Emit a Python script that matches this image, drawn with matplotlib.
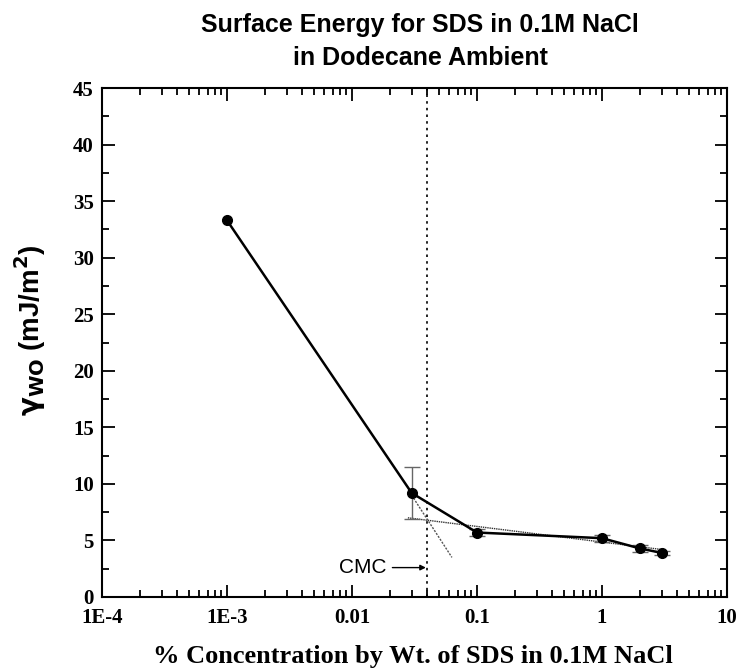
import matplotlib
matplotlib.use("Agg")
import matplotlib.pyplot as plt
import numpy as np
from matplotlib.ticker import FixedLocator, FixedFormatter, LogLocator, MultipleLocator, NullFormatter

# Data
conc = [0.001, 0.03, 0.1, 1.0, 2.0, 3.0]
gamma = [33.3, 9.2, 5.7, 5.2, 4.3, 3.9]
err_conc = [0.03, 0.1, 1.0, 2.0, 3.0]
err_gamma = [9.2, 5.7, 5.2, 4.3, 3.9]
err_size = [2.3, 0.35, 0.3, 0.3, 0.2]

fit_flat_x = [0.028, 3.0]
fit_flat_y = [7.0, 4.2]
fit_steep_x = [0.03, 0.063]
fit_steep_y = [9.0, 3.5]

cmc = 0.04
xticks = [1e-4, 1e-3, 0.01, 0.1, 1, 10]
xticklabels = ["1E-4", "1E-3", "0.01", "0.1", "1", "10"]

W, H = 744, 669
fig = plt.figure(figsize=(7.44, 6.69), dpi=100)
ax = fig.add_axes([102 / W, 1 - 597 / H, (727 - 102) / W, (597 - 88) / H])

ax.set_xscale("log")
ax.set_xlim(1e-4, 10)
ax.set_ylim(0, 45)

# fit lines
ax.plot(fit_flat_x, fit_flat_y, color="#333333", lw=1.0, ls=(0, (1, 0.6)))
ax.plot(fit_steep_x, fit_steep_y, color="#555555", lw=1.0, ls=(0, (1.5, 1)))

# error bars
ax.errorbar(err_conc, err_gamma, yerr=err_size, fmt="none", ecolor="#666666", elinewidth=1.0, capsize=6)
# main line
ax.plot(conc, gamma, color="black", lw=1.8, marker="o", ms=7, mfc="black", mec="black")

# CMC line
ax.axvline(cmc, color="black", lw=1.2, ls=(0, (1.5, 2.5)))
ax.annotate("CMC", xy=(cmc, 2.6), xytext=(0.019, 2.6), fontsize=15, family="Liberation Sans",
            ha="right", va="center",
            arrowprops=dict(arrowstyle="-|>", color="black", lw=1.0, mutation_scale=8,
                            shrinkA=2, shrinkB=1))

# ticks
ax.xaxis.set_major_locator(FixedLocator(xticks))
ax.xaxis.set_major_formatter(FixedFormatter(xticklabels))
ax.xaxis.set_minor_locator(LogLocator(base=10, subs=np.arange(2, 10)))
ax.xaxis.set_minor_formatter(NullFormatter())
ax.yaxis.set_major_locator(MultipleLocator(5))
ax.yaxis.set_minor_locator(MultipleLocator(2.5))

ax.tick_params(which="both", direction="in", top=True, right=True, width=1.3)
ax.tick_params(which="major", length=9)
ax.tick_params(which="minor", length=5)
ax.tick_params(axis="y", which="major", labelsize=15, pad=6)
ax.tick_params(axis="x", which="major", labelsize=15, pad=8)
for lab in ax.get_xticklabels() + ax.get_yticklabels():
    lab.set_family("Liberation Serif")
    lab.set_fontweight("bold")

for s in ax.spines.values():
    s.set_linewidth(1.5)

ax.set_xlabel("% Concentration by Wt. of SDS in 0.1M NaCl", family="Liberation Serif",
              fontweight="bold", fontsize=19)
ax.xaxis.set_label_coords(0.497, (597 - 657) / (597 - 88), transform=ax.transAxes)
ax.xaxis.label.set_va("center")
ax.set_ylabel(r"$\mathbf{\gamma}_{\mathbf{WO}}$ (mJ/m$^{\mathbf{2}}$)", family="Liberation Sans",
              fontweight="bold", fontsize=20)
ax.yaxis.set_label_coords((30 - 102) / (727 - 102), (597 - 330) / (597 - 88), transform=ax.transAxes)
ax.yaxis.label.set_va("center")

fig.text(420 / W, 1 - 25 / H, "Surface Energy for SDS in 0.1M NaCl", family="Liberation Sans",
         fontweight="bold", fontsize=18, ha="center", va="center")
fig.text(420 / W, 1 - 58 / H, "in Dodecane Ambient", family="Liberation Sans",
         fontweight="bold", fontsize=18, ha="center", va="center")

fig.savefig("out.png", dpi=100)
